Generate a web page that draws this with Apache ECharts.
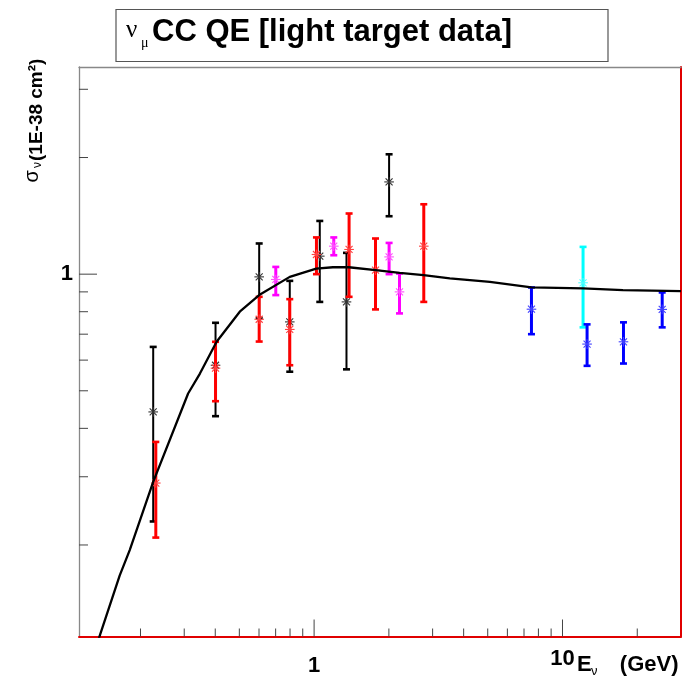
<!DOCTYPE html>
<html><head><meta charset="utf-8">
<script src="https://cdn.jsdelivr.net/npm/echarts@6/dist/echarts.min.js"></script>
<style>html,body{margin:0;padding:0;background:#fff}#c{width:684px;height:696px}</style>
</head><body><div id="c"></div>
<script>
// Axis ranges (log-log)
const X_MIN = 0.1131, X_MAX = 30, Y_MIN = 0.1161, Y_MAX = 3.425;

// Tick positions
const xMajorTicks = [1, 10];
const xMinorTicks = [0.2, 0.3, 0.4, 0.5, 0.6, 0.7, 0.8, 0.9, 2, 3, 4, 5, 6, 7, 8, 9, 20];
const yMajorTicks = [1];
const yMinorTicks = [0.2, 0.3, 0.4, 0.5, 0.6, 0.7, 0.8, 0.9, 2, 3];
const xTickLabels = ['1', '10'];
const yTickLabels = ['1'];

// Model curve
const curveX = [0.13, 0.137, 0.165, 0.181, 0.225, 0.311, 0.347, 0.405, 0.502, 0.601, 0.798, 1.02, 1.19, 1.38, 1.77, 2.21, 2.76, 3.52, 5.1, 7.5, 12.1, 17.5, 30];
const curveY = [0.105, 0.1165, 0.167, 0.194, 0.291, 0.492, 0.554, 0.669, 0.80, 0.883, 0.984, 1.034, 1.042, 1.042, 1.024, 1.008, 0.994, 0.975, 0.955, 0.924, 0.919, 0.909, 0.904];

// Data sets: energy, cross section, lower and upper error bounds
const blackX  = [0.225, 0.401, 0.601, 0.798, 1.054, 1.35, 2.004];
const blackY  = [0.441, 0.582, 0.984, 0.753, 1.113, 0.848, 1.73];
const blackLo = [0.230, 0.430, 0.77, 0.560, 0.848, 0.568, 1.411];
const blackHi = [0.649, 0.749, 1.20, 0.961, 1.372, 1.135, 2.039];

const redX  = [0.2305, 0.401, 0.601, 0.798, 1.022, 1.383, 1.767, 2.764];
const redY  = [0.289, 0.572, 0.765, 0.720, 1.124, 1.158, 1.024, 1.181];
const redLo = [0.209, 0.470, 0.670, 0.582, 1.0, 0.874, 0.811, 0.848];
const redHi = [0.369, 0.669, 0.874, 0.862, 1.244, 1.434, 1.236, 1.515];

const magX  = [0.701, 1.20, 2.004, 2.207];
const magY  = [0.969, 1.181, 1.108, 0.900];
const magLo = [0.883, 1.119, 1.0, 0.792];
const magHi = [1.044, 1.244, 1.204, 1.004];

const cyanX  = [12.1];
const cyanY  = [0.950];
const cyanLo = [0.729];
const cyanHi = [1.176];

const blueX  = [7.50, 12.56, 17.6, 25.2];
const blueY  = [0.812, 0.660, 0.669, 0.811];
const blueLo = [0.700, 0.580, 0.588, 0.729];
const blueHi = [0.924, 0.742, 0.751, 0.897];

const chart = echarts.init(document.getElementById('c'), null, {renderer: 'canvas'});

function zip(xs, ys, lo, hi) { return xs.map((x, i) => [x, ys[i], lo[i], hi[i]]); }

function errRender(color, markColor, barW, capW, capH) {
  return function (params, api) {
    const x = api.value(0), y = api.value(1), lo = api.value(2), hi = api.value(3);
    const p = api.coord([x, y]), t = api.coord([x, hi]), b = api.coord([x, lo]);
    const r = 4.8, d = 3.5;
    const ms = {stroke: markColor, lineWidth: 1.1};
    return {type: 'group', children: [
      {type: 'line', shape: {x1: t[0], y1: t[1], x2: b[0], y2: b[1]}, style: {stroke: color, lineWidth: barW}},
      {type: 'rect', shape: {x: t[0] - capW / 2, y: t[1] - capH / 2, width: capW, height: capH}, style: {fill: color}},
      {type: 'rect', shape: {x: b[0] - capW / 2, y: b[1] - capH / 2, width: capW, height: capH}, style: {fill: color}},
      {type: 'line', shape: {x1: p[0] - r, y1: p[1], x2: p[0] + r, y2: p[1]}, style: ms},
      {type: 'line', shape: {x1: p[0], y1: p[1] - r, x2: p[0], y2: p[1] + r}, style: ms},
      {type: 'line', shape: {x1: p[0] - d, y1: p[1] - d, x2: p[0] + d, y2: p[1] + d}, style: ms},
      {type: 'line', shape: {x1: p[0] - d, y1: p[1] + d, x2: p[0] + d, y2: p[1] - d}, style: ms}
    ]};
  };
}

function errSeries(name, data, color, markColor, barW, z) {
  return {
    name, type: 'custom', coordinateSystem: 'cartesian2d', xAxisIndex: 0, yAxisIndex: 0,
    dimensions: ['x', 'y', 'lo', 'hi'], encode: {x: 0, y: 1},
    data, z, renderItem: errRender(color, markColor, barW, 7, 2.6), silent: true
  };
}

function xTickSeries(vals, len) {
  return {
    type: 'custom', coordinateSystem: 'cartesian2d', silent: true, z: 20,
    data: vals.map(v => [v, Y_MIN]),
    renderItem: (params, api) => {
      const p = api.coord([api.value(0), api.value(1)]);
      return {type: 'line', shape: {x1: p[0], y1: p[1], x2: p[0], y2: p[1] - len}, style: {stroke: '#444', lineWidth: 1}};
    }
  };
}
function yTickSeries(vals, len) {
  return {
    type: 'custom', coordinateSystem: 'cartesian2d', silent: true, z: 20,
    data: vals.map(v => [X_MIN, v]),
    renderItem: (params, api) => {
      const p = api.coord([api.value(0), api.value(1)]);
      return {type: 'line', shape: {x1: p[0], y1: p[1], x2: p[0] + len, y2: p[1]}, style: {stroke: '#444', lineWidth: 1}};
    }
  };
}

const labelFont = 'bold 22px "Liberation Sans", Arial, sans-serif';
const xLabelSeries = {
  type: 'custom', coordinateSystem: 'cartesian2d', silent: true, z: 20,
  data: xMajorTicks.map((v, i) => [v, Y_MIN, i]),
  renderItem: (params, api) => {
    const i = api.value(2);
    const p = api.coord([api.value(0), api.value(1)]);
    return {type: 'text', style: {text: xTickLabels[i], x: p[0], y: p[1] + (i === 0 ? 29 : 22),
      align: 'center', verticalAlign: 'middle', font: labelFont, fill: '#000'}};
  }
};
const yLabelSeries = {
  type: 'custom', coordinateSystem: 'cartesian2d', silent: true, z: 20,
  data: yMajorTicks.map((v, i) => [X_MIN, v, i]),
  renderItem: (params, api) => {
    const i = api.value(2);
    const p = api.coord([api.value(0), api.value(1)]);
    return {type: 'text', style: {text: yTickLabels[i], x: p[0] - 6, y: p[1],
      align: 'right', verticalAlign: 'middle', font: labelFont, fill: '#000'}};
  }
};

const hiddenAxis = {show: true, axisLabel: {show: false}, axisTick: {show: false}, splitLine: {show: false}};

const option = {
  backgroundColor: '#fff',
  animation: false,
  grid: {left: 79, top: 67, width: 602, height: 569.5, containLabel: false},
  xAxis: [
    Object.assign({type: 'log', logBase: 10, min: X_MIN, max: X_MAX, position: 'bottom',
      axisLine: {show: true, lineStyle: {color: '#e00000', width: 2}}}, hiddenAxis),
    Object.assign({type: 'log', logBase: 10, min: X_MIN, max: X_MAX, position: 'top',
      axisLine: {show: true, lineStyle: {color: '#888', width: 1.3}}}, hiddenAxis)
  ],
  yAxis: [
    Object.assign({type: 'log', logBase: 10, min: Y_MIN, max: Y_MAX, position: 'left',
      axisLine: {show: true, lineStyle: {color: '#888', width: 1.3}}}, hiddenAxis),
    Object.assign({type: 'log', logBase: 10, min: Y_MIN, max: Y_MAX, position: 'right',
      axisLine: {show: true, lineStyle: {color: '#e00000', width: 2}}}, hiddenAxis)
  ],
  series: [
    xTickSeries(xMinorTicks, 8), xTickSeries(xMajorTicks, 17),
    yTickSeries(yMinorTicks, 9), yTickSeries(yMajorTicks, 18),
    xLabelSeries, yLabelSeries,
    errSeries('black', zip(blackX, blackY, blackLo, blackHi), '#000', '#333', 2, 2),
    errSeries('red', zip(redX, redY, redLo, redHi), '#ff0000', '#ff4040', 3, 3),
    errSeries('magenta', zip(magX, magY, magLo, magHi), '#ff00ff', '#ff50ff', 3, 4),
    errSeries('cyan', zip(cyanX, cyanY, cyanLo, cyanHi), '#00ffff', '#50ffff', 3, 5),
    errSeries('blue', zip(blueX, blueY, blueLo, blueHi), '#0000ff', '#4040ff', 3, 6),
    {
      name: 'model', type: 'line', z: 10, symbol: 'none', smooth: false, clip: true,
      data: curveX.map((x, i) => [x, curveY[i]]),
      lineStyle: {color: '#000', width: 2.3}
    }
  ],
  graphic: [
    {type: 'rect', shape: {x: 116, y: 9.5, width: 492, height: 52}, style: {fill: '#fff', stroke: '#555', lineWidth: 1.2}},
    {type: 'text', style: {text: 'ν', x: 126, y: 30, align: 'left', verticalAlign: 'middle',
      font: '25px "Liberation Serif", serif', fill: '#000'}},
    {type: 'text', style: {text: 'μ', x: 141, y: 43, align: 'left', verticalAlign: 'middle',
      font: '14px "Liberation Serif", serif', fill: '#000'}},
    {type: 'text', style: {text: 'CC QE [light target data]', x: 152, y: 32.5, align: 'left', verticalAlign: 'middle',
      font: 'bold 31px "Liberation Sans", Arial, sans-serif', fill: '#000'}},
    // x axis title
    {type: 'text', style: {text: '(GeV)', x: 678.5, y: 665, align: 'right', verticalAlign: 'middle',
      font: 'bold 22px "Liberation Sans", Arial, sans-serif', fill: '#000'}},
    {type: 'text', style: {text: 'ν', x: 591, y: 671, align: 'left', verticalAlign: 'middle',
      font: '13px "Liberation Sans", Arial, sans-serif', fill: '#000'}},
    {type: 'text', style: {text: 'E', x: 577, y: 665, align: 'left', verticalAlign: 'middle',
      font: 'bold 22px "Liberation Sans", Arial, sans-serif', fill: '#000'}},
    // y axis title (rotated)
    {type: 'text', x: 32.5, y: 182.5, rotation: Math.PI / 2, style: {text: 'σ', x: 0, y: 0, align: 'left', verticalAlign: 'middle',
      font: '20px "Liberation Sans", Arial, sans-serif', fill: '#000'}},
    {type: 'text', x: 38, y: 168, rotation: Math.PI / 2, style: {text: 'ν', x: 0, y: 0, align: 'left', verticalAlign: 'middle',
      font: '12px "Liberation Sans", Arial, sans-serif', fill: '#000'}},
    {type: 'text', x: 36.7, y: 161, rotation: Math.PI / 2, style: {text: '(1E-38 cm²)', x: 0, y: 0, align: 'left', verticalAlign: 'middle',
      font: 'bold 19px "Liberation Sans", Arial, sans-serif', fill: '#000'}}
  ]
};
chart.setOption(option);
</script>
</body></html>
